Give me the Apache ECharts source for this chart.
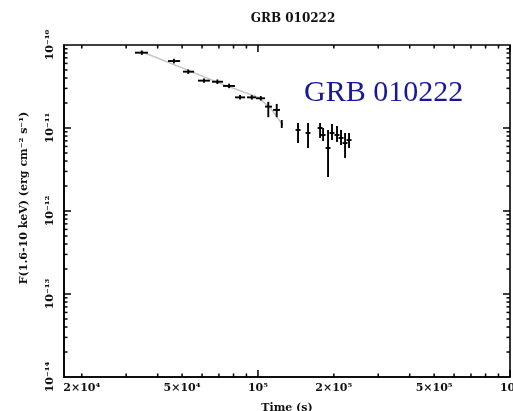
<!DOCTYPE html>
<html>
<head>
<meta charset="utf-8">
<script src="https://cdn.jsdelivr.net/npm/echarts@6/dist/echarts.min.js"></script>
<style>
  html, body { margin: 0; padding: 0; background: #fff; }
  #chart { width: 513px; height: 411px; }
</style>
</head>
<body>
<div id="chart"></div>
<script>
// X-ray afterglow light curve of GRB 010222 (1.6-10 keV)
// Time bins (s): centre, lower edge, upper edge
const timeMid = [3.46e4, 4.64e4, 5.29e4, 6.11e4, 6.90e4, 7.68e4, 8.49e4, 9.45e4, 1.026e5, 1.099e5, 1.187e5, 1.243e5,
                 1.442e5, 1.580e5, 1.764e5, 1.813e5, 1.897e5, 1.967e5, 2.059e5, 2.136e5, 2.216e5, 2.298e5];
const timeLo  = [3.25e4, 4.40e4, 5.04e4, 5.78e4, 6.57e4, 7.27e4, 8.11e4, 9.05e4, 9.82e4, 1.067e5, 1.148e5, 1.235e5,
                 1.41e5, 1.545e5, 1.725e5, 1.773e5, 1.855e5, 1.923e5, 2.013e5, 2.088e5, 2.166e5, 2.246e5];
const timeHi  = [3.66e4, 4.91e4, 5.58e4, 6.45e4, 7.27e4, 8.11e4, 8.89e4, 9.82e4, 1.067e5, 1.137e5, 1.223e5, 1.251e5,
                 1.475e5, 1.615e5, 1.805e5, 1.855e5, 1.94e5, 2.012e5, 2.106e5, 2.185e5, 2.266e5, 2.351e5];
// Flux (erg cm^-2 s^-1): value, lower and upper error limits
const flux    = [8.08e-11, 6.41e-11, 4.77e-11, 3.72e-11, 3.61e-11, 3.21e-11, 2.34e-11, 2.34e-11, 2.28e-11, 1.81e-11, 1.65e-11, 1.12e-11,
                 9.47e-12, 8.71e-12, 1.0e-11, 8.24e-12, 5.74e-12, 8.71e-12, 8.24e-12, 7.59e-12, 6.59e-12, 7.16e-12];
const fluxLo  = [7.6e-11, 6.0e-11, 4.48e-11, 3.5e-11, 3.39e-11, 3.02e-11, 2.2e-11, 2.2e-11, 2.14e-11, 1.35e-11, 1.35e-11, 1.0e-11,
                 6.59e-12, 5.74e-12, 7.59e-12, 6.97e-12, 2.57e-12, 7.16e-12, 6.78e-12, 6.24e-12, 4.36e-12, 5.74e-12];
const fluxHi  = [8.6e-11, 6.82e-11, 5.08e-11, 3.96e-11, 3.84e-11, 3.42e-11, 2.49e-11, 2.49e-11, 2.43e-11, 2.07e-11, 1.95e-11, 1.25e-11,
                 1.32e-11, 1.32e-11, 1.32e-11, 1.0e-11, 9.47e-12, 1.12e-11, 1.06e-11, 9.47e-12, 8.71e-12, 8.71e-12];

// Decay model curve
const modelTime = [3.46e4, 5.0e4, 7.0e4, 1.0e5, 1.12e5, 1.243e5];
const modelFlux = [8.3e-11, 5.3e-11, 3.5e-11, 2.35e-11, 1.75e-11, 1.12e-11];

// Axis ranges, ticks and labels (in physical units)
const xRange = [1.7e4, 1e6];
const xMajorTicks = [1e5, 1e6];
const xMinorTicks = [2e4, 3e4, 4e4, 5e4, 6e4, 7e4, 8e4, 9e4, 2e5, 3e5, 4e5, 5e5, 6e5, 7e5, 8e5, 9e5];
const xLabelValues = [2e4, 5e4, 1e5, 2e5, 5e5, 1e6];
const xLabelTexts = ['2×10⁴', '5×10⁴', '10⁵', '2×10⁵', '5×10⁵', '10⁶'];

const yRange = [1e-14, 1e-10];
const yMajorTicks = [1e-13, 1e-12, 1e-11];
const yMinorTicks = [];
[1e-14, 1e-13, 1e-12, 1e-11].forEach(d => { for (let k = 2; k <= 9; k++) yMinorTicks.push(k * d); });
const yLabelValues = [1e-14, 1e-13, 1e-12, 1e-11, 1e-10];
const yLabelTexts = ['10⁻¹⁴', '10⁻¹³', '10⁻¹²', '10⁻¹¹', '10⁻¹⁰'];

const titleText = 'GRB 010222';
const xName = 'Time (s)';
const yName = 'F(1.6-10 keV) (erg cm⁻² s⁻¹)';
const tagText = 'GRB 010222';

const FONT = 'DejaVu Serif';
const INK = '#000';
const MAJOR_LEN = 7;
const MINOR_LEN = 3.5;

// Both axes are logarithmic: values are placed on linear axes in decades.
const lg = Math.log10;
const X0 = lg(xRange[0]), X1 = lg(xRange[1]);
const Y0 = lg(yRange[0]), Y1 = lg(yRange[1]);

function lookup(values, texts) {
  return function (v) {
    for (let i = 0; i < values.length; i++) {
      if (Math.abs(v - lg(values[i])) < 1e-6) return texts[i];
    }
    return '';
  };
}

const labelFont = { fontFamily: FONT, fontWeight: 'bold', fontSize: 11, color: '#111' };

const xAxis = {
  type: 'value',
  min: X0, max: X1,
  position: 'bottom',
  splitLine: { show: false },
  axisLine: { show: true, onZero: false, lineStyle: { color: INK, width: 1.6 } },
  axisTick: { show: false },
  axisLabel: Object.assign({
    customValues: xLabelValues.map(lg),
    formatter: lookup(xLabelValues, xLabelTexts),
    margin: 6
  }, labelFont),
  name: xName, nameLocation: 'middle', nameGap: 26,
  nameTextStyle: labelFont
};

const yAxis = {
  type: 'value',
  min: Y0, max: Y1,
  position: 'left',
  splitLine: { show: false },
  axisLine: { show: true, onZero: false, lineStyle: { color: INK, width: 1.6 } },
  axisTick: { show: false },
  axisLabel: Object.assign({
    customValues: yLabelValues.map(lg),
    formatter: lookup(yLabelValues, yLabelTexts),
    margin: 8,
    rotate: 90
  }, labelFont),
  name: yName, nameLocation: 'middle', nameGap: 34, nameRotate: 90,
  nameTextStyle: Object.assign({ padding: [0, 0, 0, 26] }, labelFont)
};

// Rows: [x, xLo, xHi, y, yLo, yHi, kind, tickLength]
// kind 0 = measurement with error bars, 1 = tick on the x axis, 2 = tick on the y axis
const rows = [];
timeMid.forEach((t, i) => {
  rows.push([lg(t), lg(timeLo[i]), lg(timeHi[i]), lg(flux[i]), lg(fluxLo[i]), lg(fluxHi[i]), 0, 0]);
});
function addTicks(values, kind, len) {
  values.forEach(v => {
    const x = kind === 1 ? lg(v) : X0;
    const y = kind === 1 ? Y0 : lg(v);
    rows.push([x, x, x, y, y, y, kind, len]);
  });
}
addTicks(xMajorTicks, 1, MAJOR_LEN);
addTicks(xMinorTicks, 1, MINOR_LEN);
addTicks(yMajorTicks, 2, MAJOR_LEN);
addTicks(yMinorTicks, 2, MINOR_LEN);

const modelData = modelTime.map((t, i) => [lg(t), lg(modelFlux[i])]);

function seg(x1, y1, x2, y2, w) {
  return { type: 'line', shape: { x1: x1, y1: y1, x2: x2, y2: y2 }, style: { stroke: INK, lineWidth: w } };
}

const chart = echarts.init(document.getElementById('chart'), null, { renderer: 'canvas' });
chart.setOption({
  animation: false,
  backgroundColor: '#fff',
  title: {
    text: titleText, left: 288, top: 8, textAlign: 'center',
    textStyle: { fontFamily: FONT, fontWeight: 'bold', fontSize: 12, color: '#111' }
  },
  grid: {
    left: 64, top: 45, width: 446, height: 332, outerBoundsMode: 'none',
    show: true, borderColor: INK, borderWidth: 1.6, backgroundColor: 'transparent'
  },
  xAxis: xAxis,
  yAxis: yAxis,
  series: [
    {
      type: 'line',
      data: modelData,
      showSymbol: false,
      symbol: 'none',
      z: 1,
      lineStyle: { color: '#c4c4c4', width: 1.5 }
    },
    {
      type: 'custom',
      data: rows,
      encode: { x: [0, 1, 2], y: [3, 4, 5] },
      z: 3,
      renderItem: function (params, api) {
        const kind = api.value(6);
        const len = api.value(7);
        if (kind === 1) {
          // inside tick at the bottom and top edges
          const b = api.coord([api.value(0), Y0]);
          const t = api.coord([api.value(0), Y1]);
          return { type: 'group', children: [
            seg(b[0], b[1], b[0], b[1] - len, 1.5),
            seg(t[0], t[1], t[0], t[1] + len, 1.5)
          ] };
        }
        if (kind === 2) {
          // inside tick at the left and right edges
          const l = api.coord([X0, api.value(3)]);
          const r = api.coord([X1, api.value(3)]);
          return { type: 'group', children: [
            seg(l[0], l[1], l[0] + len, l[1], 1.5),
            seg(r[0], r[1], r[0] - len, r[1], 1.5)
          ] };
        }
        const c = api.coord([api.value(0), api.value(3)]);
        const xl = api.coord([api.value(1), api.value(3)]);
        const xh = api.coord([api.value(2), api.value(3)]);
        const yl = api.coord([api.value(0), api.value(4)]);
        const yh = api.coord([api.value(0), api.value(5)]);
        return { type: 'group', children: [
          seg(xl[0], c[1], xh[0], c[1], 1.9),
          seg(c[0], yh[1], c[0], yl[1], 1.9)
        ] };
      }
    }
  ],
  graphic: [
    {
      type: 'rect', left: 290, top: 76, z: 100,
      shape: { width: 190, height: 47 },
      style: { fill: '#fff' }
    },
    {
      type: 'text', left: 304, top: 78, z: 101,
      style: { text: tagText, fill: '#18189a', font: '30px "Liberation Serif"' }
    }
  ]
});
</script>
</body>
</html>
